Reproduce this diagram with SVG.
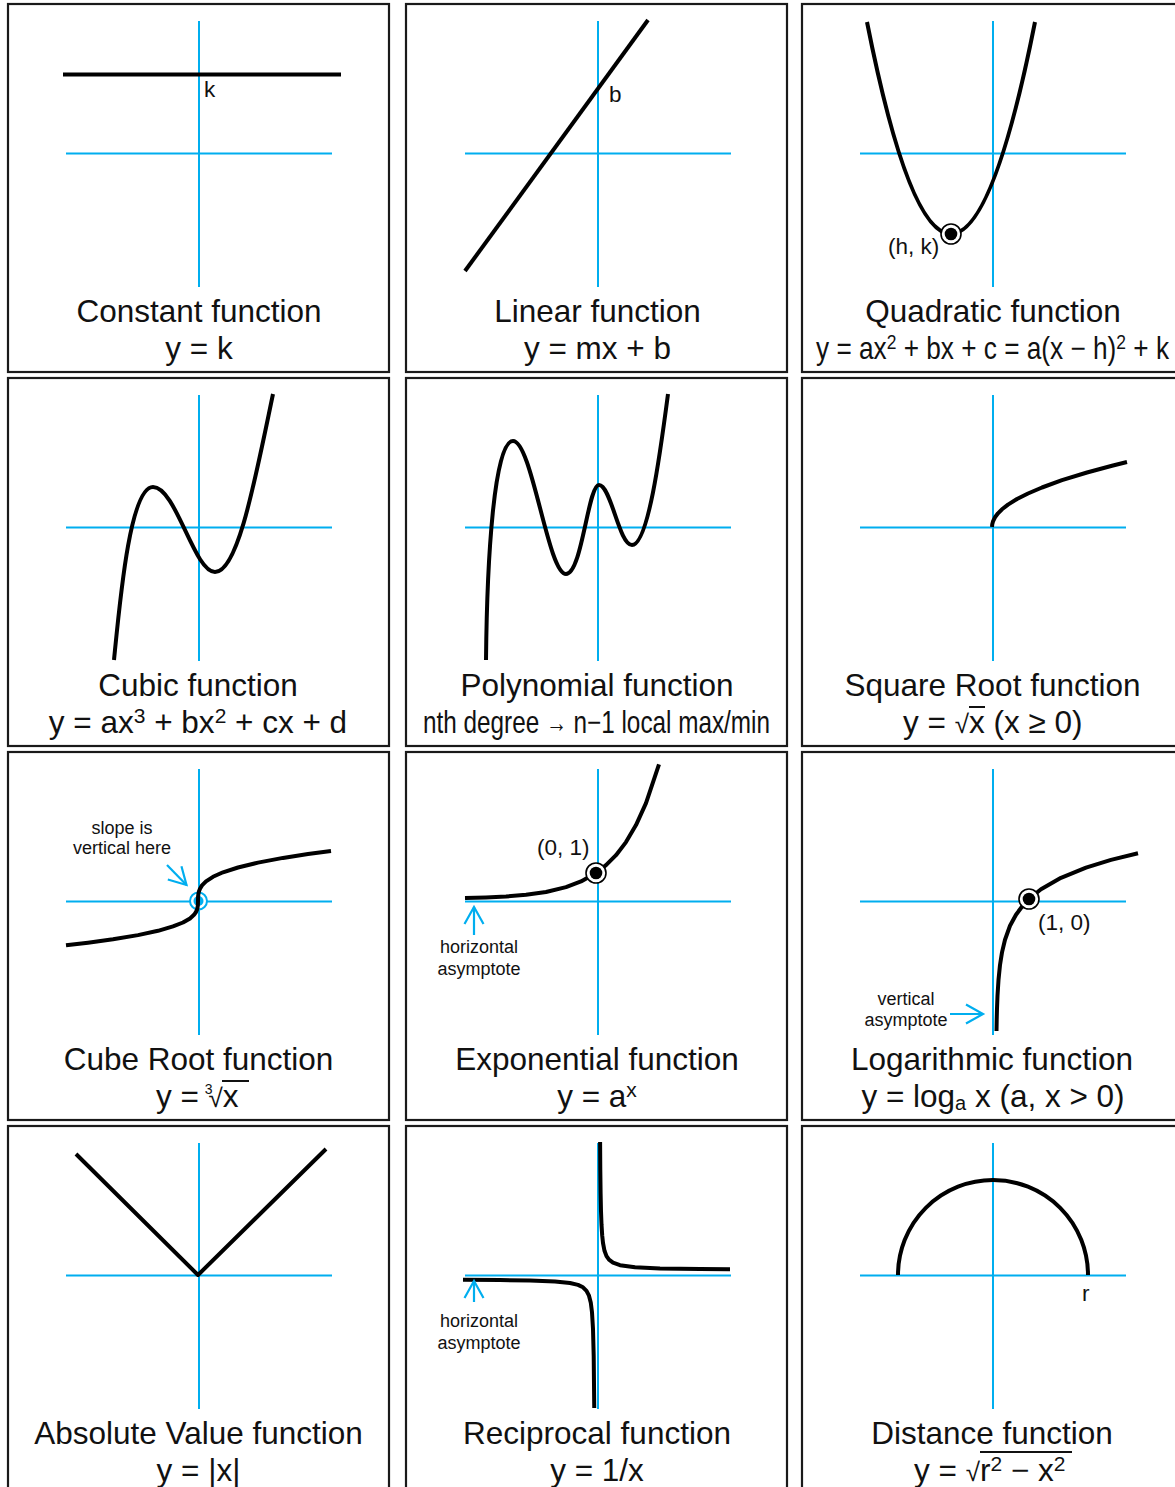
<svg xmlns="http://www.w3.org/2000/svg" xmlns:xlink="http://www.w3.org/1999/xlink" width="1175" height="1487" viewBox="0 0 1175 1487">
<style>
.panel{fill:#fff;stroke:#1a1a1a;stroke-width:2.2}
.ax{stroke:#00AEEF;stroke-width:2;fill:none}
.cv{stroke:#000;stroke-width:4;fill:none;stroke-linejoin:round;stroke-linecap:butt}
.t{font-family:"Liberation Sans",Arial,sans-serif;font-size:31.5px;fill:#111;text-anchor:middle}
.s{text-anchor:start}
.lbl{font-family:"Liberation Sans",Arial,sans-serif;font-size:22.5px;fill:#111}
.ann{font-family:"Liberation Sans",Arial,sans-serif;font-size:18px;fill:#111;text-anchor:middle}
.ol{stroke:#111;stroke-width:2}
.arr{stroke:#00AEEF;stroke-width:2.2;fill:none;marker-end:url(#ah)}
</style>
<defs>
<marker id="ah" viewBox="-20 -12 23 24" refX="0" refY="0" markerWidth="23" markerHeight="24" markerUnits="userSpaceOnUse" orient="auto">
<path d="M-17,-9.5 L0,0 L-17,9.5" fill="none" stroke="#00AEEF" stroke-width="2.2"/>
</marker>
<g id="pt"><circle r="10" fill="#fff" stroke="#000" stroke-width="1.6"/><circle r="6.3" fill="#000"/></g>
</defs>

<g id="constant">
<rect class="panel" x="8" y="4" width="381" height="368"/>
<line class="ax" x1="199" y1="21" x2="199" y2="287"/>
<line class="ax" x1="66" y1="153.5" x2="332" y2="153.5"/>
<line class="cv" x1="63" y1="74.5" x2="341" y2="74.5"/>
<text class="lbl" x="204" y="97">k</text>
<text class="t" x="199" y="322">Constant function</text>
<text class="t" x="199" y="359">y = k</text>
</g>

<g id="linear">
<rect class="panel" x="406" y="4" width="381" height="368"/>
<line class="ax" x1="598" y1="21" x2="598" y2="287"/>
<line class="ax" x1="465" y1="153.5" x2="731" y2="153.5"/>
<line class="cv" x1="465" y1="271" x2="648" y2="20"/>
<text class="lbl" x="609" y="102">b</text>
<text class="t" x="597.5" y="322">Linear function</text>
<text class="t" x="597.5" y="359">y = mx + b</text>
</g>

<g id="quadratic">
<rect class="panel" x="802" y="4" width="381" height="368"/>
<line class="ax" x1="993" y1="21" x2="993" y2="287"/>
<line class="ax" x1="860" y1="153.5" x2="1126" y2="153.5"/>
<path class="cv" d="M867,22 Q951,446 1035,22"/>
<use xlink:href="#pt" x="951" y="234"/>
<text class="lbl" x="888" y="254">(h, k)</text>
<text class="t" x="993" y="322">Quadratic function</text>
<text class="t s" x="816" y="359" textLength="353" lengthAdjust="spacingAndGlyphs">y = ax<tspan dy="-10" font-size="21">2</tspan><tspan dy="10"> + bx + c = a(x − h)</tspan><tspan dy="-10" font-size="21">2</tspan><tspan dy="10"> + k</tspan></text>
</g>

<g id="cubic">
<rect class="panel" x="8" y="378" width="381" height="368"/>
<line class="ax" x1="199" y1="395" x2="199" y2="661"/>
<line class="ax" x1="66" y1="527.5" x2="332" y2="527.5"/>
<path class="cv" d="M114,660 C120,600 130,487 153,487 C176,487 194,572 215,572 C238,572 255,480 273,394"/>
<text class="t" x="198" y="696">Cubic function</text>
<text class="t" x="198" y="733">y = ax<tspan dy="-10" font-size="21">3</tspan><tspan dy="10"> + bx</tspan><tspan dy="-10" font-size="21">2</tspan><tspan dy="10"> + cx + d</tspan></text>
</g>

<g id="polynomial">
<rect class="panel" x="406" y="378" width="381" height="368"/>
<line class="ax" x1="598" y1="395" x2="598" y2="661"/>
<line class="ax" x1="465" y1="527.5" x2="731" y2="527.5"/>
<path class="cv" d="M486,660 C487,560 494,441 513,441 C532,441 548,574 566,574 C582,574 588,485 599,485 C611,485 619,545 632,545 C648,545 660,455 668,394"/>
<text class="t" x="597" y="696">Polynomial function</text>
<text class="t s" x="423" y="733" textLength="347" lengthAdjust="spacingAndGlyphs">nth degree <tspan font-size="27" dy="-1">→</tspan><tspan dy="1"> n−1 local max/min</tspan></text>
</g>

<g id="squareroot">
<rect class="panel" x="802" y="378" width="381" height="368"/>
<line class="ax" x1="993" y1="395" x2="993" y2="661"/>
<line class="ax" x1="860" y1="527.5" x2="1126" y2="527.5"/>
<path class="cv" d="M992,527 L992.25,524.2 L993,521.4 L995,517.3 L998,513.3 L1002,509.3 L1008,504.6 L1017,499 L1028,493.5 L1042,487.5 L1062,480.2 L1087,472.5 L1112,465.8 L1127,462"/>
<text class="t" x="992.5" y="696">Square Root function</text>
<text class="t s" x="903" y="733">y = <tspan font-size="26">√</tspan>x (x ≥ 0)</text>
<line class="ol" x1="969" y1="707" x2="985" y2="707"/>
</g>

<g id="cuberoot">
<rect class="panel" x="8" y="752" width="381" height="368"/>
<line class="ax" x1="199" y1="769" x2="199" y2="1035"/>
<line class="ax" x1="66" y1="901.5" x2="332" y2="901.5"/>
<circle cx="198.5" cy="901" r="8.5" fill="#fff" stroke="#00AEEF" stroke-width="2"/>
<circle cx="198.5" cy="901" r="5" fill="#00AEEF"/>
<path class="cv" d="M66,945.3 L88,942.7 L113,939.3 L138,935.1 L158,930.8 L173,926.4 L183,922.5 L190,918.4 L194,914.8 L196,912 L197,909.7 L197.5,907.9 L197.9,905 L198,901 L198.1,896.5 L198.5,893.2 L199,891.2 L200,888.7 L202,885.4 L206,881.4 L213,876.8 L223,872.3 L238,867.5 L258,862.6 L283,857.9 L308,854 L331,851"/>
<text class="ann" x="122" y="834">slope is</text>
<text class="ann" x="122" y="854">vertical here</text>
<text class="t" x="198.5" y="1070">Cube Root function</text>
<text class="t s" x="156" y="1107">y = <tspan font-size="14" dy="-13" dx="-3">3</tspan><tspan font-size="26" dy="13" dx="-4">√</tspan>x</text>
<line class="ol" x1="222" y1="1081" x2="249" y2="1081"/>
</g>

<g id="exponential">
<rect class="panel" x="406" y="752" width="381" height="368"/>
<line class="ax" x1="598" y1="769" x2="598" y2="1035"/>
<line class="ax" x1="465" y1="901.5" x2="731" y2="901.5"/>
<path class="cv" d="M465,898.1 L486,897.5 L506,896.5 L526,894.8 L546,892 L566,887.1 L581,881.4 L596,873 L606,865.2 L616,855.2 L626,842.1 L636,825.1 L646,803.1 L659,764.4"/>
<use xlink:href="#pt" x="596" y="873"/>
<text class="lbl" x="537" y="855">(0, 1)</text>
<text class="ann" x="479" y="953">horizontal</text>
<text class="ann" x="479" y="975">asymptote</text>
<text class="t" x="597" y="1070">Exponential function</text>
<text class="t" x="597" y="1107">y = a<tspan dy="-10" font-size="21">x</tspan></text>
</g>

<g id="logarithmic">
<rect class="panel" x="802" y="752" width="381" height="368"/>
<line class="ax" x1="993" y1="769" x2="993" y2="1035"/>
<line class="ax" x1="860" y1="901.5" x2="1126" y2="901.5"/>
<path class="cv" d="M996.5,1031 L996.7,1019.6 L997,1008.5 L997.5,995.7 L998.5,979.8 L1000,965 L1002,952.4 L1005,939.7 L1010,925.8 L1016,914.7 L1023,905.3 L1029,899 L1041,889.3 L1061,877.8 L1086,867.6 L1111,859.9 L1138,853.3"/>
<use xlink:href="#pt" x="1029" y="899"/>
<text class="lbl" x="1038" y="930">(1, 0)</text>
<text class="ann" x="906" y="1005">vertical</text>
<text class="ann" x="906" y="1026">asymptote</text>
<text class="t" x="992" y="1070">Logarithmic function</text>
<text class="t" x="993" y="1107">y = log<tspan dy="3" font-size="20">a</tspan><tspan dy="-3"> x (a, x &gt; 0)</tspan></text>
</g>

<g id="absolute">
<rect class="panel" x="8" y="1126" width="381" height="368"/>
<line class="ax" x1="199" y1="1143" x2="199" y2="1409"/>
<line class="ax" x1="66" y1="1275.5" x2="332" y2="1275.5"/>
<path class="cv" d="M76,1154 L198,1275 L326,1149"/>
<text class="t" x="198.5" y="1444">Absolute Value function</text>
<text class="t" x="198.5" y="1481">y = |x|</text>
</g>

<g id="reciprocal">
<rect class="panel" x="406" y="1126" width="381" height="368"/>
<line class="ax" x1="598" y1="1143" x2="598" y2="1409"/>
<line class="ax" x1="465" y1="1275.5" x2="731" y2="1275.5"/>
<path class="cv" d="M600.1,1142 L600.3,1170 L600.6,1193.1 L601,1211.2 L601.5,1224.5 L602.2,1235.5 L603,1243 L604.5,1250.8 L606.5,1256.1 L609,1259.7 L613,1262.7 L620,1265.2 L635,1267.2 L660,1268.4 L700,1269 L730,1269.2"/>
<path class="cv" d="M463,1279.8 L500,1280.1 L530,1280.5 L555,1281.5 L570,1283 L578,1284.9 L583,1287.3 L586.5,1290.8 L589,1295.7 L590.8,1302.8 L592,1312.3 L593,1329 L593.7,1355.9 L594.2,1404 L594.25,1408"/>
<text class="ann" x="479" y="1327">horizontal</text>
<text class="ann" x="479" y="1349">asymptote</text>
<text class="t" x="597" y="1444">Reciprocal function</text>
<text class="t" x="597" y="1481">y = 1/x</text>
</g>

<g id="distance">
<rect class="panel" x="802" y="1126" width="381" height="368"/>
<line class="ax" x1="993" y1="1143" x2="993" y2="1409"/>
<line class="ax" x1="860" y1="1275.5" x2="1126" y2="1275.5"/>
<path class="cv" d="M898,1275 A95,95 0 0 1 1088,1275"/>
<text class="lbl" x="1082" y="1301">r</text>
<text class="t" x="992" y="1444">Distance function</text>
<text class="t s" x="914" y="1481">y = <tspan font-size="26">√</tspan>r<tspan dy="-10" font-size="21">2</tspan><tspan dy="10"> − x</tspan><tspan dy="-10" font-size="21">2</tspan></text>
<line class="ol" x1="980" y1="1452" x2="1072" y2="1452"/>
</g>

<g id="connectors">
<path class="arr" d="M167,865 L186.5,885"/>
<path class="arr" d="M474,935 L474,907"/>
<path class="arr" d="M950,1014 L983,1014"/>
<path class="arr" d="M474,1302 L474,1281"/>
</g>
</svg>
